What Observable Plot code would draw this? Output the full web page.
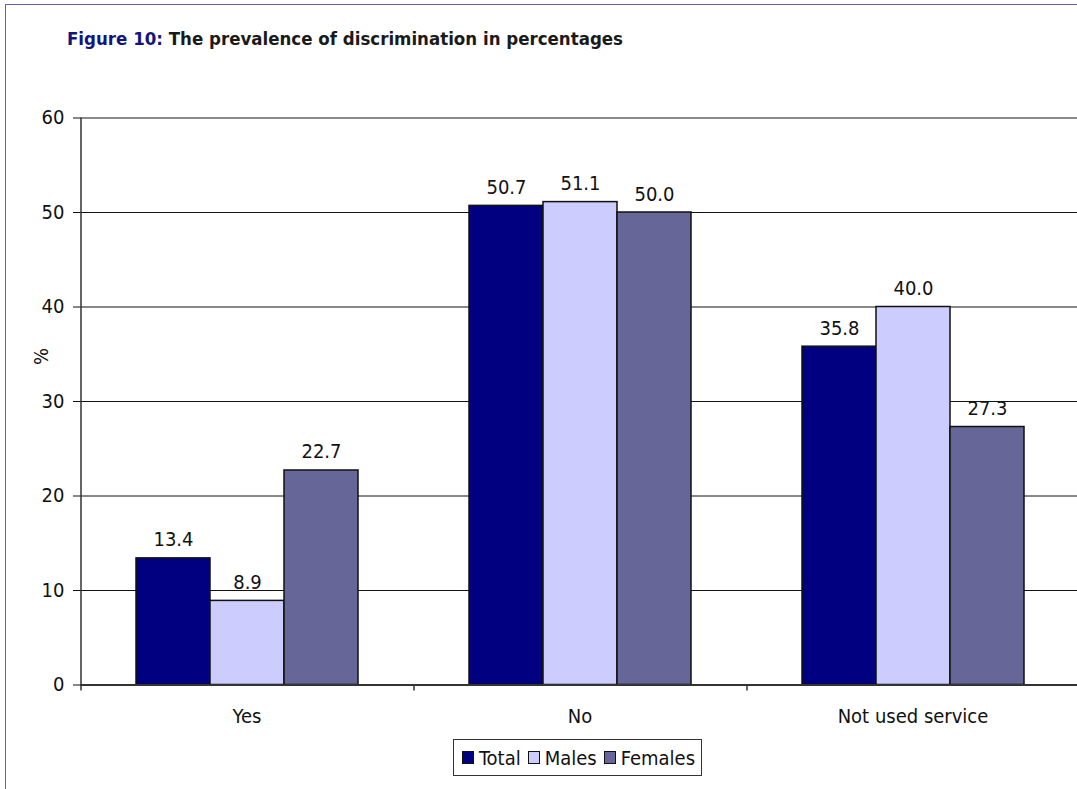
<!DOCTYPE html>
<html>
<head>
<meta charset="utf-8">
<script src="https://cdn.jsdelivr.net/npm/d3@7"></script>
<script src="https://cdn.jsdelivr.net/npm/@observablehq/plot@0.6"></script>
<style>
  html, body { margin: 0; padding: 0; background: #fff; }
  #page {
    position: relative; width: 1077px; height: 789px; overflow: hidden;
    font-family: "DejaVu Sans Condensed", "Liberation Sans Narrow", "Arial Narrow", sans-serif;
    color: #111;
  }
  #edge {
    position: absolute; left: 5px; top: 4px; width: 1200px; height: 900px;
    border-left: 1.5px solid #5f5fbf; border-top: 1.5px solid #5f5fbf;
    pointer-events: none;
  }
  #title {
    position: absolute; left: 67px; top: 29px;
    font-size: 18.5px; line-height: 19px; font-weight: bold; color: #1a1a1a;
    white-space: nowrap;
  }
  #title .fig { color: #14147f; }
  #chart { position: absolute; left: 0; top: 100px; }
  #legend {
    position: absolute; top: 739px; left: 453px; height: 35px;
    border: 1px solid #333; background: #fff;
    display: flex; align-items: center; padding: 0 6px 0 8px; gap: 7px;
    font-size: 20px; white-space: nowrap;
  }
  #legend .item { display: flex; align-items: center; gap: 5px; }
  #legend .sw { width: 10px; height: 11px; border: 1.5px solid #111; display: inline-block; }
</style>
</head>
<body>
<div id="page">
  <div id="edge"></div>
  <div id="title"><span class="fig">Figure 10:</span> The prevalence of discrimination in percentages</div>
  <div id="chart"></div>
  <div id="legend"></div>
</div>
<script>
// Answers to the discrimination question, by group
const categories = ["Yes", "No", "Not used service"];
const series = ["Total", "Males", "Females"];
const totalValues = [13.4, 50.7, 35.8];
const maleValues = [8.9, 51.1, 40.0];
const femaleValues = [22.7, 50.0, 27.3];
const yTicks = [0, 10, 20, 30, 40, 50, 60];
const seriesColors = ["#000080", "#CCCCFF", "#666699"];

const valuesBySeries = [totalValues, maleValues, femaleValues];
const rows = categories.flatMap((category, i) =>
  series.map((s, j) => ({category, series: s, value: valuesBySeries[j][i]}))
);

const width = 1077;
const height = 640;
const marginLeft = 80;
const marginRight = -2;
const outerPad = 0.75;
// one step of the inner band scale, used to reach the edges of each group band
const bandWidth = (width - marginLeft - marginRight) / categories.length;
const step = bandWidth / (series.length + 2 * outerPad);
const edgeDx = -(outerPad + 0.5) * step;

const plot = Plot.plot({
  width,
  height,
  marginLeft,
  marginRight,
  marginTop: 17.5,
  marginBottom: 55.5,
  style: {
    fontFamily: '"DejaVu Sans Condensed", "Liberation Sans Narrow", "Arial Narrow", sans-serif',
    fontSize: "20px",
    color: "#111",
    background: "transparent"
  },
  fx: {domain: categories, padding: 0, label: null, tickSize: 0, tickPadding: 24, axis: "bottom"},
  x: {domain: series, paddingInner: 0, paddingOuter: outerPad, axis: null},
  y: {domain: [0, 60], ticks: yTicks, tickSize: 7, tickPadding: 9, label: "%", labelAnchor: "center", labelOffset: 47, labelArrow: false, grid: false},
  color: {domain: series, range: seriesColors},
  marks: [
    // horizontal gridlines
    Plot.ruleY(yTicks.filter(t => t > 0 && t < 60), {stroke: "#111", strokeWidth: 1}),
    Plot.ruleY([60], {stroke: "#8a8a8a", strokeWidth: 2}),
    // bars
    Plot.barY(rows, {fx: "category", x: "series", y: "value", fill: "series", stroke: "#111", strokeWidth: 1.5}),
    // value labels
    Plot.text(rows, {fx: "category", x: "series", y: "value", text: d => d.value.toFixed(1), lineAnchor: "bottom", dy: -12, fill: "#111"}),
    // baseline
    Plot.ruleY([0], {stroke: "#333", strokeWidth: 2}),
    // vertical axis line on the first group
    Plot.ruleX([series[0]], {fx: () => categories[0], x: d => d, y1: 0, y2: 60, dx: edgeDx, stroke: "#333", strokeWidth: 1.5}),
    // category boundary ticks below the baseline
    Plot.ruleX([series[0]], {x: d => d, y1: 0, y2: 0, insetBottom: -6, dx: edgeDx, stroke: "#333", strokeWidth: 1.5})
  ]
});
document.getElementById("chart").append(plot);

// lift the "%" axis title a little above the middle of the axis
const yLabel = plot.querySelector('[aria-label="y-axis label"]');
if (yLabel) yLabel.setAttribute("transform", "translate(0,-45) " + (yLabel.getAttribute("transform") || ""));

// legend built from the plot's colour scale
const color = plot.scale("color");
const legend = document.getElementById("legend");
color.domain.forEach((name, i) => {
  const item = document.createElement("span");
  item.className = "item";
  const sw = document.createElement("span");
  sw.className = "sw";
  sw.style.background = color.range[i];
  item.append(sw, document.createTextNode(name));
  legend.append(item);
});
</script>
</body>
</html>
